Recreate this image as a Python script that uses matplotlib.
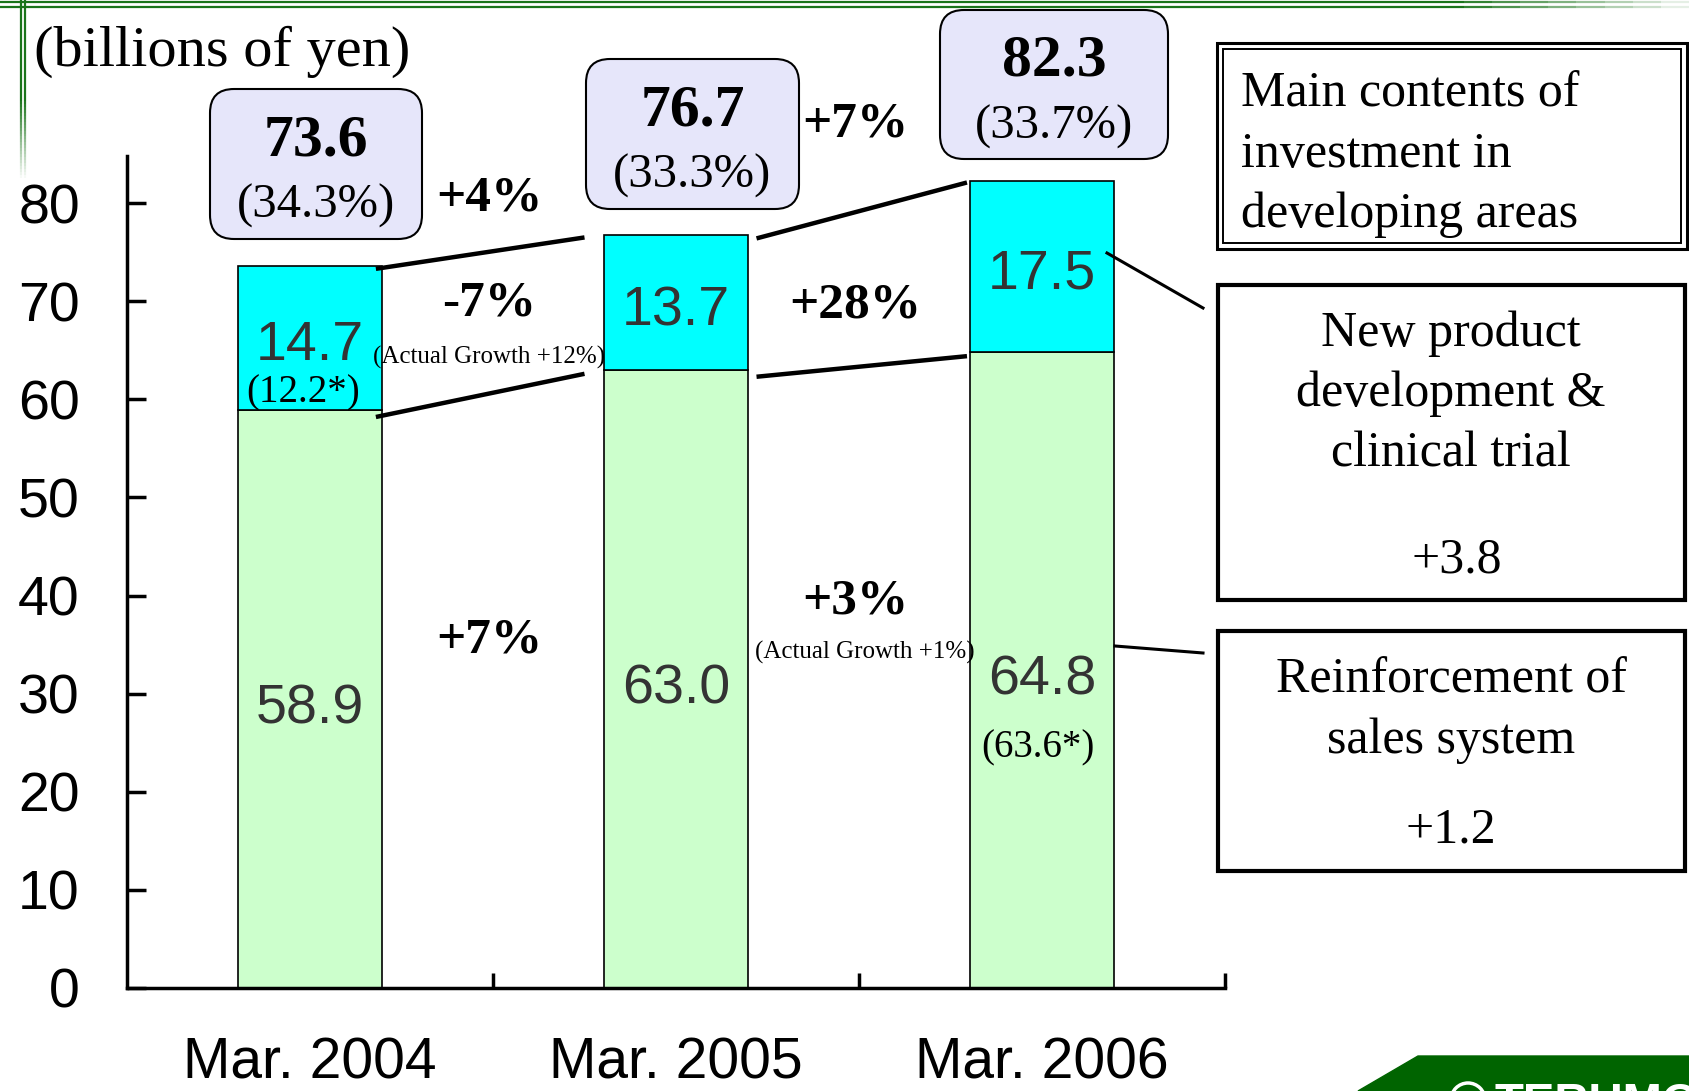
import matplotlib
matplotlib.use('Agg')
import matplotlib.pyplot as plt
import numpy as np
from matplotlib.patches import FancyBboxPatch, Rectangle, Polygon, Circle
from matplotlib.collections import LineCollection

plt.rcParams['font.family'] = ['Liberation Sans', 'DejaVu Sans']
SERIF = ['Liberation Serif', 'DejaVu Serif']

# data (billions of yen)
periods = ['Mar. 2004', 'Mar. 2005', 'Mar. 2006']
sales = [58.9, 63.0, 64.8]          # reinforcement of sales system
rnd = [14.7, 13.7, 17.5]            # new product development & clinical trial
totals = [73.6, 76.7, 82.3]
ratios = ['(34.3%)', '(33.3%)', '(33.7%)']
rnd_adj = ['(12.2*)', None, None]
sales_adj = [None, None, '(63.6*)']
total_growth = ['+4%', '+7%']
rnd_growth = ['-7%', '+28%']
rnd_actual = ['(Actual Growth +12%)', None]
sales_growth = ['+7%', '+3%']
sales_actual = [None, '(Actual Growth +1%)']

W, H = 1689, 1091
fig = plt.figure(figsize=(W / 100, H / 100), dpi=100)
ax = fig.add_axes([127 / W, 1 - 988 / H, (1225 - 127) / W, (988 - 156) / H])

x = np.arange(len(periods))
bw = 0.395
ax.bar(x, sales, bw, color='#CCFFCC', edgecolor='black', linewidth=1.2, zorder=2)
ax.bar(x, rnd, bw, bottom=sales, color='#00FFFF', edgecolor='black', linewidth=1.2, zorder=2)

ax.set_xlim(-0.5, 2.5)
ax.set_ylim(0, 84.8)
for s in ['top', 'right']:
    ax.spines[s].set_visible(False)
for s in ['left', 'bottom']:
    ax.spines[s].set_linewidth(2.5)

ax.set_yticks(range(0, 81, 10))
ax.tick_params(axis='y', direction='in', length=14, width=2.5, labelsize=40, pad=34)
ax.set_xticks([0.5, 1.5, 2.5])
ax.set_xticklabels([])
ax.set_xticks(x, minor=True)
ax.set_xticklabels(periods, minor=True)
ax.tick_params(axis='x', which='major', direction='in', length=11, width=2.5)
ax.tick_params(axis='x', which='minor', length=0, labelsize=41, pad=35)

# values inside bars
for i in x:
    ax.text(i, sales[i] / 2 - 1.05, f'{sales[i]:.1f}', ha='center', va='center',
            fontsize=40, color='#333333', zorder=3)
    ax.text(i, sales[i] + rnd[i] / 2 - 0.85, f'{rnd[i]:.1f}', ha='center', va='center',
            fontsize=40, color='#333333', zorder=3)
    if rnd_adj[i]:
        ax.text(i - 0.02, sales[i] + rnd[i] / 2 - 5.55, rnd_adj[i], ha='center', va='center',
                fontsize=28, family=SERIF, zorder=3)
    if sales_adj[i]:
        ax.text(i - 0.01, sales[i] / 2 - 7.95, sales_adj[i], ha='center', va='center',
                fontsize=28, family=SERIF, zorder=3)

# connecting lines between bars
start_off = [0.18, 0.22]
end_off = [0.25, 0.205]
for i in range(len(periods) - 1):
    xs = [i + start_off[i], i + 1 - end_off[i]]
    ax.plot(xs, [totals[i] - 0.3, totals[i + 1] - 0.2], color='black', lw=3.2,
            solid_capstyle='butt', clip_on=False, zorder=4)
    ax.plot(xs, [sales[i] - 0.7, sales[i + 1] - 0.4], color='black', lw=3.2,
            solid_capstyle='butt', clip_on=False, zorder=4)

# growth labels
total_y = [80.5, 88.0]
rnd_y = [69.75, 69.55]
sales_y = [35.45, 39.35]
for i in range(len(periods) - 1):
    kw = dict(ha='center', va='center', fontsize=37, fontweight='bold', family=SERIF,
              clip_on=False, zorder=5)
    ax.text(i + 0.49, total_y[i], total_growth[i], **kw)
    ax.text(i + 0.49, rnd_y[i], rnd_growth[i], **kw)
    ax.text(i + 0.49, sales_y[i], sales_growth[i], **kw)
    if rnd_actual[i]:
        ax.text(i + 0.49, rnd_y[i] - 5.5, rnd_actual[i], ha='center', va='center',
                fontsize=18, family=SERIF, zorder=5)
    if sales_actual[i]:
        ax.text(i + 0.515, sales_y[i] - 5.1, sales_actual[i], ha='center', va='center',
                fontsize=18, family=SERIF, zorder=5)

# overlay in pixel coordinates (origin top-left)
ov = fig.add_axes([0, 0, 1, 1])
ov.set_xlim(0, W)
ov.set_ylim(H, 0)
ov.axis('off')
ov.patch.set_visible(False)

ov.text(34, 52, '(billions of yen)', fontsize=42, family=SERIF, ha='left', va='center')

# total boxes above bars
boxes = [(210, 89, 212, 150), (586, 59, 213, 150), (940, 10, 228, 149)]
for i, (bx, by, bwid, bh) in enumerate(boxes):
    ov.add_patch(FancyBboxPatch((bx, by), bwid, bh,
                                boxstyle='round,pad=0,rounding_size=24',
                                facecolor='#E6E6FA', edgecolor='black', lw=1.5))
    cx = bx + bwid / 2
    ov.text(cx, by + 52, f'{totals[i]:.1f}', ha='center', va='center', fontsize=43,
            fontweight='bold', family=SERIF)
    ov.text(cx, by + 117, ratios[i], ha='center', va='center', fontsize=35, family=SERIF)

# right side explanation boxes
ov.add_patch(Rectangle((1217, 43), 470, 206, fill=False, lw=2.2, edgecolor='black'))
ov.add_patch(Rectangle((1223, 49), 458, 194, fill=False, lw=1.4, edgecolor='black'))
for k, line in enumerate(['Main contents of', 'investment in', 'developing areas']):
    ov.text(1241, 94 + 60.5 * k, line, ha='left', va='center', fontsize=36, family=SERIF)

ov.add_patch(Rectangle((1218, 285), 467, 315, fill=False, lw=3, edgecolor='black'))
for k, line in enumerate(['New product', 'development &', 'clinical trial']):
    ov.text(1451, 334 + 60 * k, line, ha='center', va='center', fontsize=36, family=SERIF)
ov.text(1457, 560, '+3.8', ha='center', va='center', fontsize=36, family=SERIF)

ov.add_patch(Rectangle((1218, 631), 467, 240, fill=False, lw=3, edgecolor='black'))
for k, line in enumerate(['Reinforcement of', 'sales system']):
    ov.text(1451, 680 + 61 * k, line, ha='center', va='center', fontsize=36, family=SERIF)
ov.text(1451, 830, '+1.2', ha='center', va='center', fontsize=36, family=SERIF)

# leader lines
ov.plot([1107, 1203], [253, 308], color='black', lw=2.2)
ov.plot([1115, 1203], [646, 653], color='black', lw=2.2)

# green decorations at the top-left
def fade_line(x0, y0, x1, y1, fade_from, n=60, lw=1.6):
    t = np.linspace(0, 1, n + 1)
    px = x0 + (x1 - x0) * t
    py = y0 + (y1 - y0) * t
    segs = [[(px[j], py[j]), (px[j + 1], py[j + 1])] for j in range(n)]
    alphas = [1.0 if tt < fade_from else max(0.0, 1 - (tt - fade_from) / (1 - fade_from))
              for tt in t[:-1]]
    cols = [(0.1, 0.45, 0.1, a) for a in alphas]
    ov.add_collection(LineCollection(segs, colors=cols, linewidths=lw))

fade_line(0, 2, 1689, 2, 0.85)
fade_line(0, 7, 1689, 7, 0.85)
fade_line(21, 0, 21, 178, 0.55)
fade_line(25, 0, 25, 178, 0.55)

# logo strip at bottom-right
ov.add_patch(Polygon([(1358, 1091), (1418, 1056), (1689, 1056), (1689, 1091)],
                     closed=True, color='#006400'))
ov.add_patch(Circle((1468, 1100), 17, fill=False, edgecolor='white', lw=2.5))
ov.text(1495, 1082, 'TERUMO', color='white', fontsize=34, fontweight='bold',
        ha='left', va='top')

fig.savefig('out.png', dpi=100)
